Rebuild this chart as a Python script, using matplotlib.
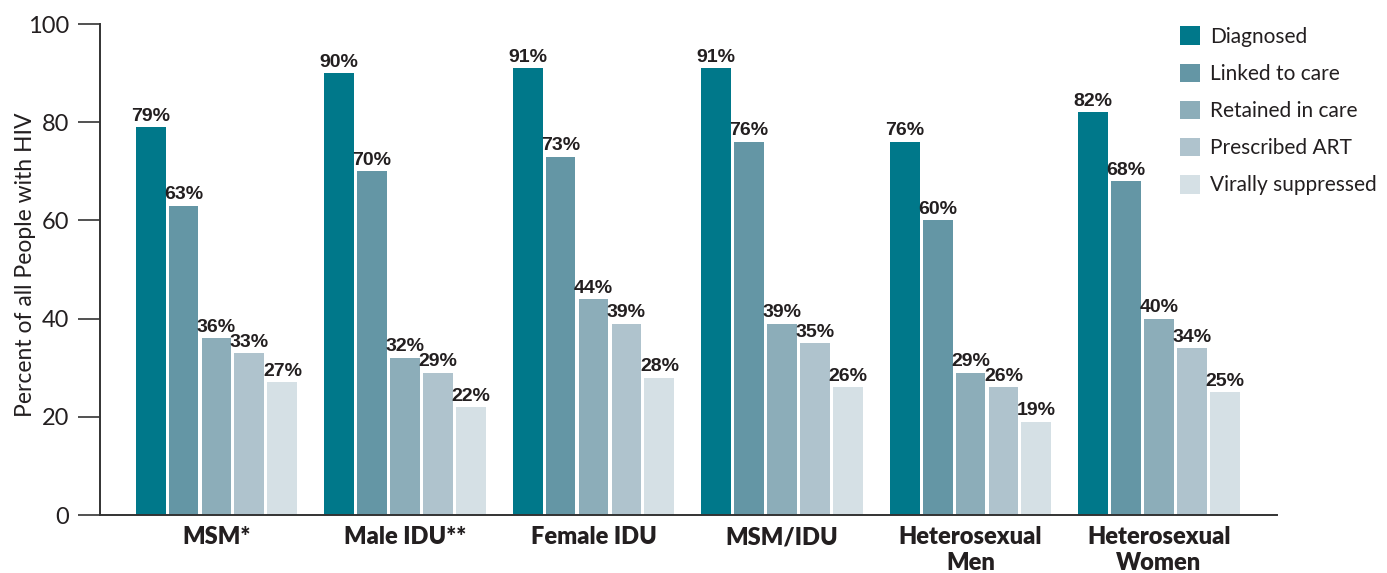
import numpy as np
import matplotlib
matplotlib.use("Agg")
import matplotlib.pyplot as plt

# =========================
# Data
# =========================
groups = ["MSM*", "Male IDU**", "Female IDU", "MSM/IDU", "Heterosexual\nMen", "Heterosexual\nWomen"]
stages = ["Diagnosed", "Linked to care", "Retained in care", "Prescribed ART", "Virally suppressed"]
diagnosed = [79, 90, 91, 91, 76, 82]
linked = [63, 70, 73, 76, 60, 68]
retained = [36, 32, 44, 39, 29, 40]
prescribed = [33, 29, 39, 35, 26, 34]
suppressed = [27, 22, 28, 26, 19, 25]
series = [diagnosed, linked, retained, prescribed, suppressed]
colors = ["#00788a", "#6496a5", "#8cadb9", "#afc3cd", "#d5e0e5"]

TEXT = "#231f20"
BODY = ["Lato", "DejaVu Sans"]
NARROW = ["Liberation Sans", "DejaVu Sans"]

# =========================
# Figure
# =========================
fig = plt.figure(figsize=(13.87, 5.73), dpi=100)
ax = fig.add_axes([0.0721, 0.1012, 0.8486, 0.8569])

x = np.arange(len(groups))
pitch = 0.175
width = 0.159
for i, (vals, name, col) in enumerate(zip(series, stages, colors)):
    pos = x + (i - 2) * pitch
    ax.bar(pos, vals, width, color=col, label=name, zorder=2)
    for p, v in zip(pos, vals):
        ax.text(p, v + 0.5, f"{v}%", ha="center", va="bottom",
                fontsize=14, fontweight="bold", color=TEXT, family=NARROW)

ax.set_xlim(-0.618, 5.626)
ax.set_ylim(0, 100)
ax.set_yticks([0, 20, 40, 60, 80, 100])
ax.set_xticks(x)
ax.set_xticklabels(groups, fontsize=17, fontweight="heavy", color=TEXT,
                   family=BODY, linespacing=1.2)
ax.tick_params(axis="x", length=0, pad=8)
ax.tick_params(axis="y", length=16, width=1.2, color="#333333",
               labelsize=17, labelcolor=TEXT, pad=6)
for lab in ax.get_yticklabels():
    lab.set_family(BODY)

for s in ["top", "right"]:
    ax.spines[s].set_visible(False)
for s in ["left", "bottom"]:
    ax.spines[s].set_color("#333333")
    ax.spines[s].set_linewidth(1.4)

ax.set_ylabel("Percent of all People with HIV", fontsize=16.5, color=TEXT,
              family=BODY)
ax.yaxis.set_label_coords(-0.054, 0.51)

leg = ax.legend(loc="upper left", bbox_to_anchor=(0.843, 0.972),
                bbox_transform=fig.transFigure, frameon=False,
                handlelength=1.0, handleheight=1.0, handletextpad=0.45,
                labelspacing=0.8, borderpad=0,
                prop={"family": BODY, "size": 15})
for t in leg.get_texts():
    t.set_color(TEXT)

fig.savefig("out.png", dpi=100)
